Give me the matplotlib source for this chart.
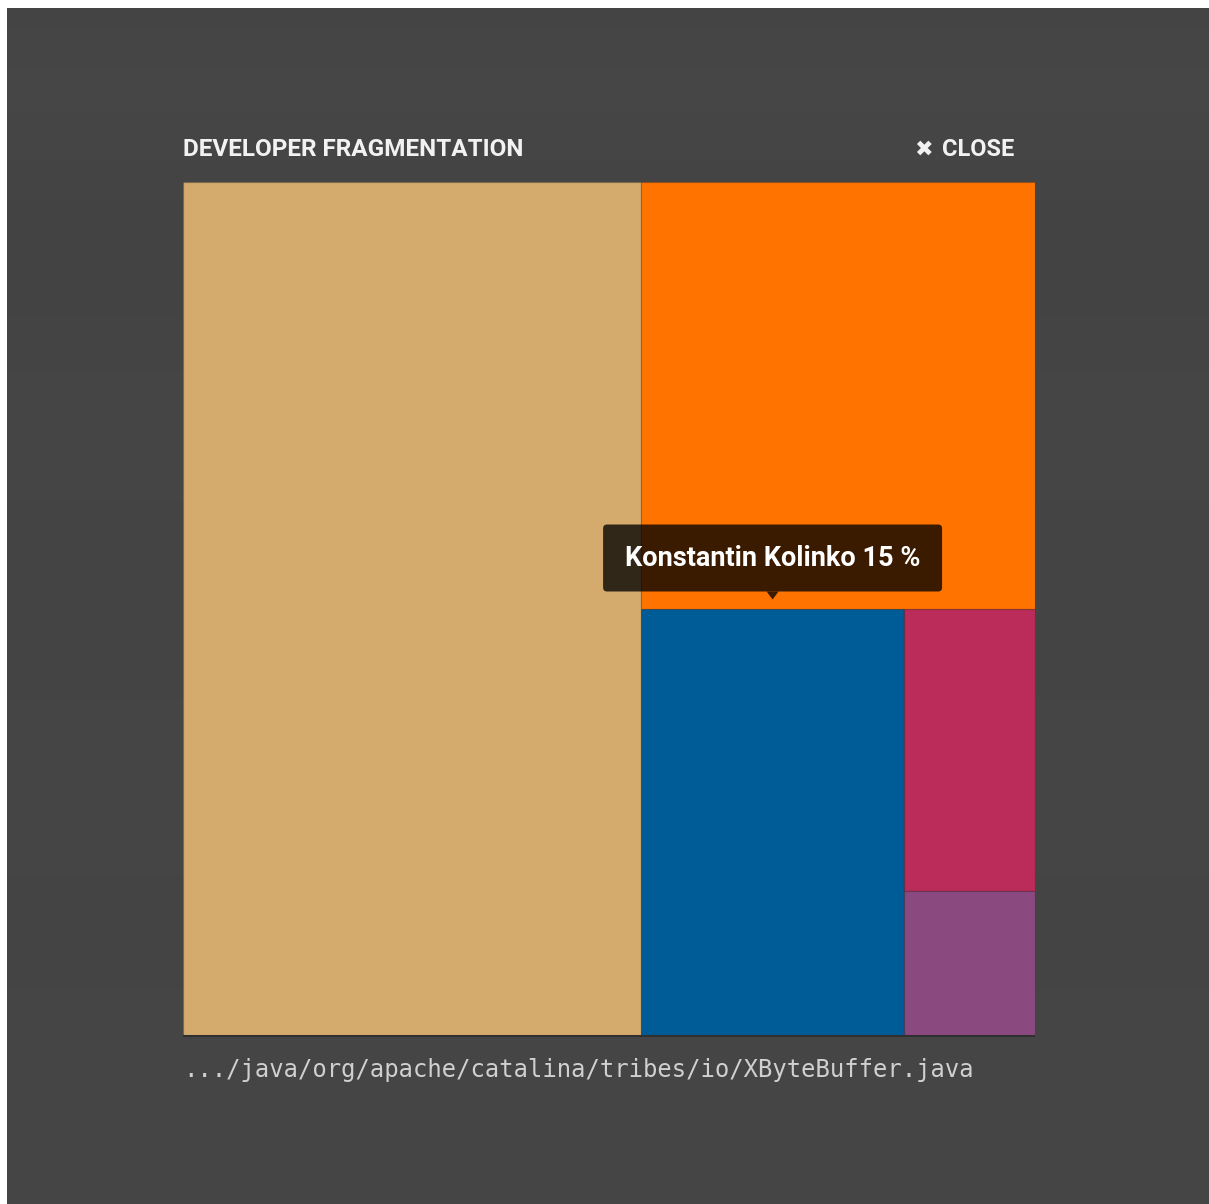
import numpy as np
import matplotlib.pyplot as plt
from matplotlib.patches import Rectangle, FancyBboxPatch, Polygon

# ----------------------
# Data
# ----------------------
shares = [53.8, 23.1, 15.4, 5.1, 2.6]          # % of the file per developer
colors = ["#D4AB6D", "#FF7400", "#005C96", "#BC2C5A", "#8A4A80"]
hover_index = 2
hover_name = "Konstantin Kolinko"
hover_label = "15 %"
title = "DEVELOPER FRAGMENTATION"
close_label = "CLOSE"
file_path = ".../java/org/apache/catalina/tribes/io/XByteBuffer.java"

W, H = 1209, 1204


def slice_layout(values, x=0.0, y=0.0, w=1.0, h=1.0):
    # alternate vertical / horizontal cuts, biggest first
    rects = []
    for i, v in enumerate(values):
        if i == len(values) - 1:
            rects.append((x, y, w, h))
            break
        frac = v / sum(values[i:])
        if i % 2 == 0:
            rw = w * frac
            rects.append((x, y, rw, h))
            x += rw
            w -= rw
        else:
            rh = h * frac
            rects.append((x, y, w, rh))
            y += rh
            h -= rh
    return rects


fig = plt.figure(figsize=(W / 100, H / 100), dpi=100, facecolor="white")

# background panel (pixel coords)
bg = fig.add_axes([0, 0, 1, 1])
bg.set_xlim(0, W)
bg.set_ylim(H, 0)
bg.axis("off")
grad = np.linspace(0, 1, 300)[:, None]
shade = 0.268 + 0.008 * np.sin(grad * 22) * np.exp(-grad * 2.5) + 0.004 * grad
bg.imshow(np.dstack([shade, shade, shade]), extent=(7, W, H, 8),
          aspect="auto", interpolation="bicubic", zorder=0)

# treemap area
left, top, right, bottom = 183, 182, 1035, 1035
# drop shadow
bg.add_patch(Rectangle((left, bottom - 2), right - left, 4,
                       facecolor="black", alpha=0.3, zorder=1))

ax = fig.add_axes([left / W, 1 - bottom / H, (right - left) / W, (bottom - top) / H])
ax.set_xlim(0, 1)
ax.set_ylim(1, 0)
ax.axis("off")

rects = slice_layout(shares)
for (rx, ry, rw, rh), c in zip(rects, colors):
    ax.add_patch(Rectangle((rx, ry), rw, rh, facecolor=c,
                           edgecolor=(0, 0, 0, 0.12), linewidth=1.0))

# header texts
bg.text(left, 149, title, color="#F2F2F2", fontsize=17.5, fontweight="bold",
        family="Roboto", va="center", ha="left")
bg.text(1014, 150, close_label, color="#F2F2F2", fontsize=17, fontweight="bold",
        family="Roboto", va="center", ha="right")
bg.text(923, 150, "\u2716", color="#F2F2F2", fontsize=16,
        family="DejaVu Sans", va="center", ha="center")

# file path
bg.text(left, 1070, file_path, color="#D0D0D0", fontsize=17.2,
        family="DejaVu Sans Mono", va="center", ha="left")

# overlay for the tooltip, above the treemap
top_ax = fig.add_axes([0, 0, 1, 1])
top_ax.set_xlim(0, W)
top_ax.set_ylim(H, 0)
top_ax.axis("off")
top_ax.patch.set_alpha(0)

# tooltip anchored on the hovered cell's top centre
hx, hy, hw, hh = rects[hover_index]
disp = ax.transData.transform((hx + hw / 2, hy))
px, py = top_ax.transData.inverted().transform(disp)
box_w, box_h = 339, 67
box_bottom = py - 17
tip_col = (0.0, 0.0, 0.0, 0.77)
top_ax.add_patch(FancyBboxPatch((px - box_w / 2, box_bottom - box_h), box_w, box_h,
                                boxstyle="round,pad=0,rounding_size=4",
                                facecolor=tip_col, edgecolor="none"))
top_ax.add_patch(Polygon([(px - 6, box_bottom), (px + 6, box_bottom), (px, box_bottom + 8)],
                         closed=True, facecolor=tip_col, edgecolor="none"))
top_ax.text(px, box_bottom - box_h / 2 + 1, f"{hover_name} {hover_label}", color="white",
            fontsize=19.5, fontweight="bold", family="Roboto",
            va="center", ha="center")

fig.savefig("out.png", dpi=100, facecolor="white")
